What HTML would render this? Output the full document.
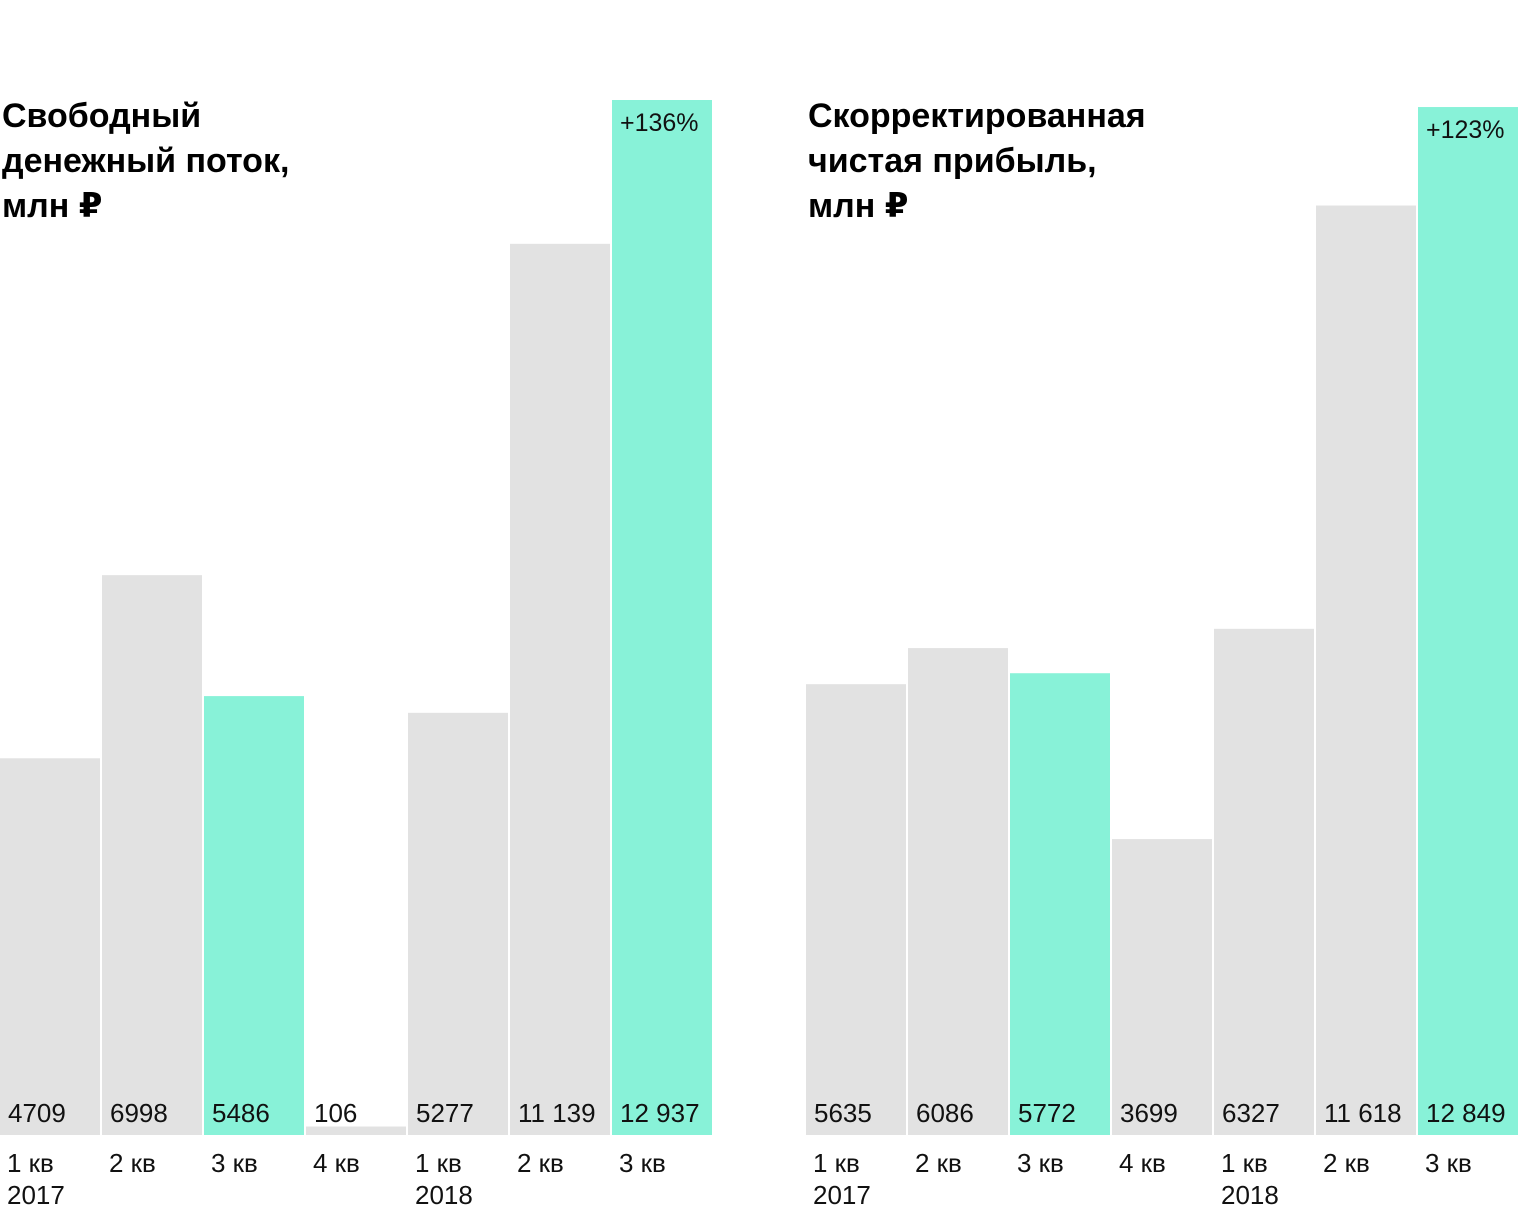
<!DOCTYPE html>
<html><head><meta charset="utf-8"><style>
body{margin:0;background:#fff;width:1520px;height:1212px;overflow:hidden}
svg{display:block;font-family:"Liberation Sans","DejaVu Sans",sans-serif}
</style></head><body>
<svg id="c" width="1520" height="1212"></svg>
<script>
const categories=["1 кв","2 кв","3 кв","4 кв","1 кв","2 кв","3 кв"];
const years=["2017","","","","2018","",""];
const fcfValues=[4709,6998,5486,106,5277,11139,12937];
const fcfLabels=["4709","6998","5486","106","5277","11 139","12 937"];
const netValues=[5635,6086,5772,3699,6327,11618,12849];
const netLabels=["5635","6086","5772","3699","6327","11 618","12 849"];
const highlight=[false,false,true,false,false,false,true];
const growthFcf="+136%";
const growthNet="+123%";
const NS="http://www.w3.org/2000/svg";
const svg=document.getElementById('c');
const base=1135, scale=1035/12937;
function y(v){return base-v*scale;}
function el(t,a,p){const e=document.createElementNS(NS,t);for(const k in a)e.setAttribute(k,a[k]);(p||svg).appendChild(e);return e;}
function chart(x0,vals,labels,title,growth,name){
  const g=el('g',{});
  
  
  title.forEach((t,i)=>{const tx=el('text',{x:x0+2,y:127+i*45,'font-size':34,'font-weight':'bold',fill:'#000'},g);tx.textContent=t;
    });
  vals.forEach((v,i)=>{
    const bx=x0+i*102, top=y(v);
    const r=el('rect',{x:bx,y:top,width:100,height:base-top,fill:highlight[i]?'#88f2d8':'#e2e2e2'},g);
    
    
    const t=el('text',{x:bx+8,y:1122,'font-size':26,fill:'#111'},g);t.textContent=labels[i];
    
    const c=el('text',{x:bx+7,y:1172,'font-size':26,fill:'#111'},g);c.textContent=categories[i];
    
    if(years[i]){const yr=el('text',{x:bx+7,y:1204,'font-size':26,fill:'#111'},g);yr.textContent=years[i];
      }
    if(i===vals.length-1){const p=el('text',{x:bx+8,y:top+31,'font-size':25,fill:'#111'},g);p.textContent=growth;
      }
  });
}
chart(0,fcfValues,fcfLabels,["Свободный","денежный поток,","млн ₽"],growthFcf,"free-cash-flow-chart");
chart(806,netValues,netLabels,["Скорректированная","чистая прибыль,","млн ₽"],growthNet,"adjusted-net-income-chart");
</script>
</body></html>
